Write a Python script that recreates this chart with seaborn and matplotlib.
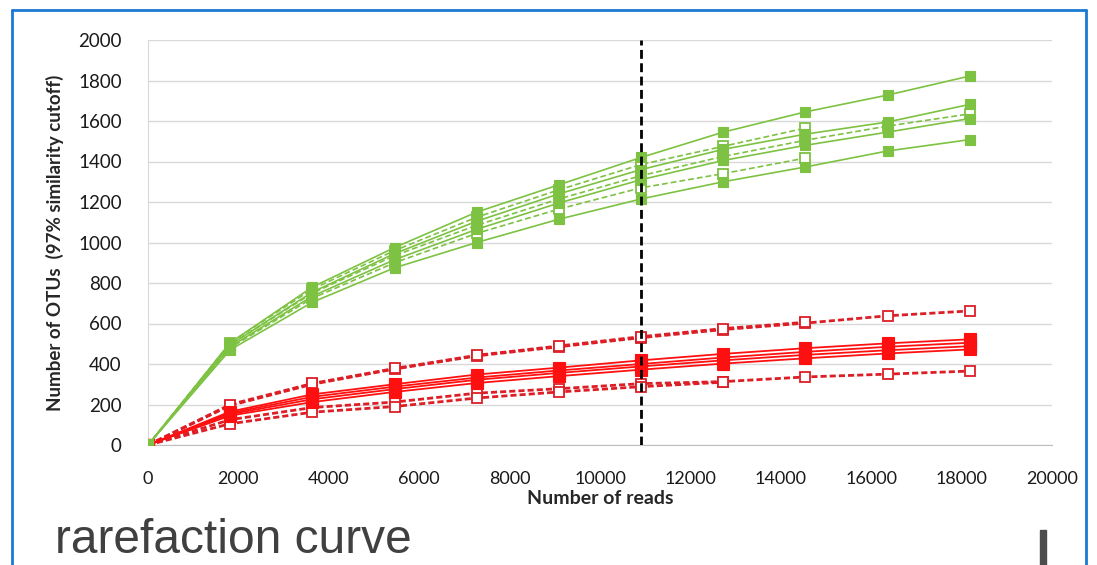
import matplotlib
matplotlib.use("Agg")
import matplotlib.pyplot as plt
import seaborn as sns
from matplotlib.patches import Rectangle
from matplotlib.lines import Line2D

# Sequencing depth at each rarefaction step
reads = [0, 1818, 3636, 5454, 7272, 9090, 10908, 12726, 14544, 16362, 18180]
cutoff_reads = 10908

# Green group: fully sequenced samples (solid) and shallower samples (dashed)
green_s1 = [0, 505, 780, 975, 1150, 1285, 1420, 1545, 1645, 1728, 1822]
green_s2 = [0, 495, 755, 945, 1105, 1240, 1360, 1460, 1535, 1595, 1682]
green_s3 = [0, 485, 735, 915, 1065, 1195, 1310, 1405, 1480, 1545, 1612]
green_s4 = [0, 470, 705, 875, 1000, 1115, 1215, 1300, 1373, 1452, 1508]
green_d1 = [0, 505, 770, 960, 1125, 1260, 1385, 1475, 1565]
green_d2 = [0, 495, 750, 935, 1085, 1215, 1330, 1425, 1505, 1575, 1635]
green_d3 = [0, 480, 725, 900, 1045, 1165, 1270, 1340, 1417]

# Red group
red_s1 = [0, 165, 250, 300, 348, 382, 418, 450, 478, 502, 522]
red_s2 = [0, 158, 238, 288, 333, 368, 400, 432, 460, 485, 505]
red_s3 = [0, 152, 226, 276, 322, 356, 388, 418, 445, 468, 488]
red_s4 = [0, 145, 212, 262, 306, 340, 372, 402, 428, 452, 472]
red_d1 = [0, 195, 300, 375, 440, 485, 530, 570, 602, 638, 662]
red_d2 = [0, 200, 304, 378, 443, 489, 535, 575, 606]
red_d3 = [0, 125, 185, 212, 256, 278, 303, 313, 336, 350, 365]
red_d4 = [0, 105, 162, 190, 232, 262, 288, 310]

x_ticks = list(range(0, 20001, 2000))
y_ticks = list(range(0, 2001, 200))

GREEN = "#7dc242"
RED = "#ff1010"
RED_DASH = "#dc1f26"

sns.set_style("white")
plt.rcParams["font.family"] = ["Lato", "DejaVu Sans"]

fig = plt.figure(figsize=(10.97, 5.65), dpi=100)
ax = fig.add_axes([148 / 1097, 1 - 445 / 565, (1052 - 148) / 1097, (445 - 40) / 565])


def draw(values, color, solid, ms, lw, dash=None, z=3):
    xs = reads[:len(values)]
    kw = dict(
        x=xs, y=values, ax=ax, color=color, linewidth=lw, marker="s",
        markersize=ms, markeredgecolor=color, zorder=z,
    )
    if solid:
        kw.update(markerfacecolor=color, markeredgewidth=0.8)
    else:
        kw.update(markerfacecolor="white", markeredgewidth=1.3, dashes=dash)
    sns.lineplot(**kw)


# Red group first so the green curves sit on top at the origin
for vals in (red_d3, red_d4, red_d1, red_d2):
    draw(vals, RED_DASH, False, 7, 2.0, dash=(2.2, 1.1), z=3)
for vals in (red_s1, red_s2, red_s3, red_s4):
    draw(vals, RED, True, 8, 1.3, z=4)

for vals in (green_d1, green_d2, green_d3):
    draw(vals, GREEN, False, 6.5, 1.2, dash=(3.5, 1.8), z=5)
for vals in (green_s1, green_s2, green_s3, green_s4):
    draw(vals, GREEN, True, 6.5, 1.2, z=6)

ax.axvline(cutoff_reads, color="black", linewidth=2, linestyle=(0, (3.2, 1.6)), zorder=7)

ax.set_xlim(0, 20000)
ax.set_ylim(0, 2000)
ax.set_xticks(x_ticks)
ax.set_yticks(y_ticks)
ax.set_xticklabels([str(v) for v in x_ticks])
ax.set_yticklabels([str(v) for v in y_ticks])
ax.grid(axis="y", color="#d9d9d9", linewidth=1)
ax.set_axisbelow(True)
for side in ("top", "right"):
    ax.spines[side].set_visible(False)
ax.spines["left"].set_color("#d9d9d9")
ax.spines["bottom"].set_color("#bfbfbf")
ax.tick_params(axis="x", length=6, width=1, color="#d9d9d9", pad=13,
               labelsize=13, labelcolor="#1a1a1a", direction="out")
ax.tick_params(axis="y", length=6, width=1, color="#d9d9d9", pad=13,
               labelsize=13.5, labelcolor="#1a1a1a", direction="out")
ax.set_xlabel("Number of reads", fontsize=14, fontweight="bold", labelpad=2)
ax.set_ylabel("Number of OTUs  (97% similarity cutoff)", fontsize=13.5,
              fontweight="bold", labelpad=10)

# Slide frame and caption
FRAME = "#1a7ad4"
fig.add_artist(Line2D([12 / 1097, 12 / 1097], [0, 1 - 10 / 565], transform=fig.transFigure,
                      color=FRAME, linewidth=2))
fig.add_artist(Line2D([12 / 1097, 1086 / 1097], [1 - 10 / 565, 1 - 10 / 565],
                      transform=fig.transFigure, color=FRAME, linewidth=2))
fig.add_artist(Line2D([1086 / 1097, 1086 / 1097], [0, 1 - 10 / 565], transform=fig.transFigure,
                      color=FRAME, linewidth=2))
fig.text(55 / 1097, 1 - 553 / 565, "rarefaction curve", fontsize=34.5, color="#404040",
         family=["Liberation Sans", "DejaVu Sans"], va="baseline", ha="left")
fig.add_artist(Rectangle((1040 / 1097, 0), 6 / 1097, 35 / 565, transform=fig.transFigure,
                         color="#4d4d4d"))

fig.savefig("out.png", dpi=100)
